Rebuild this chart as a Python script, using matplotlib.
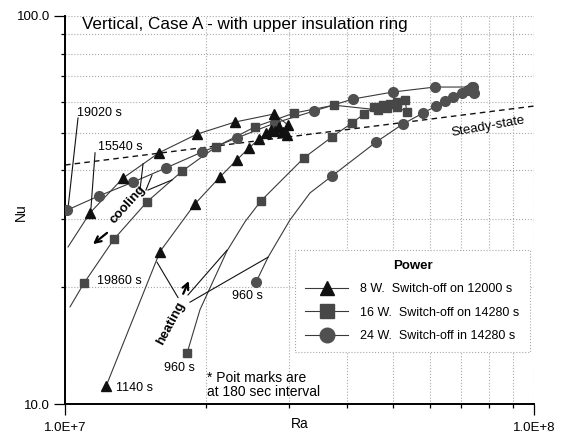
import matplotlib
matplotlib.use("Agg")
import matplotlib.pyplot as plt
from matplotlib.lines import Line2D
from matplotlib.ticker import NullFormatter, LogLocator

plt.rcParams['font.family'] = ['Liberation Sans', 'DejaVu Sans']

# ---------------- data (Ra, Nu) ----------------
# 8 W (triangles)
tri_heat_ra = [1.223e7, 1.594e7, 1.893e7, 2.141e7, 2.326e7, 2.468e7, 2.592e7, 2.683e7,
               2.750e7, 2.804e7, 2.859e7, 2.916e7, 2.973e7]
tri_heat_nu = [11.1, 24.7, 32.8, 38.5, 42.6, 45.7, 48.2, 49.9, 50.8, 50.5, 51.8, 50.2, 49.3]
tri_cool_ra = [2.988e7, 2.790e7, 2.304e7, 1.911e7, 1.586e7, 1.329e7, 1.131e7]
tri_cool_nu = [52.4, 55.9, 53.3, 49.6, 44.4, 38.2, 31.1]
tri_cool_tail_ra = [1.131e7, 1.015e7]
tri_cool_tail_nu = [31.1, 25.4]

# 16 W (squares)
sq_heat_ra = [1.820e7, 2.618e7, 3.233e7, 3.710e7, 4.092e7, 4.340e7, 4.559e7, 4.764e7,
              4.932e7, 5.104e7, 5.307e7]
sq_heat_nu = [13.5, 33.4, 43.1, 48.8, 53.0, 55.9, 58.3, 58.9, 59.3, 60.0, 60.7]
sq_heat_line_ra = [1.820e7, 1.940e7, 2.215e7, 2.420e7, 2.618e7]
sq_heat_line_nu = [13.5, 17.5, 24.8, 29.5, 33.4]
sq_cool_ra = [5.359e7, 5.104e7, 4.859e7, 4.650e7, 3.747e7, 3.077e7, 2.542e7, 2.099e7,
              1.776e7, 1.496e7, 1.272e7, 1.098e7]
sq_cool_nu = [56.6, 58.3, 58.0, 57.3, 58.9, 56.2, 51.8, 46.0, 39.8, 33.2, 26.6, 20.5]
sq_cool_tail_ra = [1.098e7, 1.025e7]
sq_cool_tail_nu = [20.5, 17.8]

# 24 W (circles)
ci_heat_ra = [2.554e7, 3.710e7, 4.604e7, 5.256e7, 5.799e7, 6.180e7, 6.460e7, 6.720e7,
              7.023e7, 7.233e7, 7.376e7, 7.450e7]
ci_heat_nu = [20.6, 38.7, 47.3, 52.7, 56.2, 58.6, 60.4, 61.8, 63.3, 64.5, 65.6, 63.5]
ci_heat_line_ra = [2.554e7, 2.710e7, 3.017e7, 3.330e7, 3.710e7]
ci_heat_line_nu = [20.6, 23.9, 29.8, 35.0, 38.7]
ci_cool_ra = [7.412e7, 6.151e7, 5.005e7, 4.112e7, 3.396e7, 2.804e7, 2.326e7, 1.959e7,
              1.642e7, 1.396e7, 1.182e7, 1.010e7]
ci_cool_nu = [65.6, 65.6, 63.7, 61.1, 56.9, 53.0, 48.5, 44.6, 40.6, 37.3, 34.4, 31.6]

# steady state
ss_ra = [1.0e7, 1.0e8]
ss_nu = [41.3, 58.6]

# leader lines for annotations
lead_19020_ra = [1.066e7, 1.015e7]
lead_19020_nu = [54.6, 32.0]
lead_15540_ra = [1.159e7, 1.136e7]
lead_15540_nu = [44.4, 32.0]
lead_cool = [([1.445e7, 1.467e7], [35.6, 41.6]),
             ([1.488e7, 1.533e7], [35.6, 38.9]),
             ([1.503e7, 1.691e7], [35.6, 37.8])]
lead_heat = [([1.571e7, 1.742e7], [23.2, 18.8]),
             ([1.829e7, 2.215e7], [19.1, 24.9]),
             ([1.847e7, 2.710e7], [18.3, 23.9])]

x_ticks = [1e7, 1e8]
x_tick_labels = ["1.0E+7", "1.0E+8"]
y_ticks = [10, 100]
y_tick_labels = ["10.0", "100.0"]

legend_labels = ["8 W.  Switch-off on 12000 s",
                 "16 W.  Switch-off on 14280 s",
                 "24 W.  Switch-off in 14280 s"]

# ---------------- plot ----------------
fig = plt.figure(figsize=(5.62, 4.40), dpi=100)
ax = fig.add_axes([65/562, 1-404/440, 469/562, 388/440])
ax.set_xscale('log')
ax.set_yscale('log')
ax.set_xlim(1e7, 1e8)
ax.set_ylim(10, 100)

line_c = '#3a3a3a'
lw = 0.8
tri_c = '#111111'
sq_c = '#474747'
ci_c = '#505050'

# lines
for xs, ys in [(tri_heat_ra, tri_heat_nu), (tri_cool_ra, tri_cool_nu),
               (tri_cool_tail_ra, tri_cool_tail_nu),
               (sq_heat_line_ra, sq_heat_line_nu), (sq_heat_ra[1:], sq_heat_nu[1:]),
               (sq_cool_ra, sq_cool_nu), (sq_cool_tail_ra, sq_cool_tail_nu),
               (ci_heat_line_ra, ci_heat_line_nu), (ci_heat_ra[1:], ci_heat_nu[1:]),
               (ci_cool_ra, ci_cool_nu)]:
    ax.plot(xs, ys, color=line_c, lw=lw, zorder=3)
ax.plot([tri_heat_ra[-1], tri_cool_ra[0]], [tri_heat_nu[-1], tri_cool_nu[0]], color=line_c, lw=lw, zorder=3)
ax.plot([sq_heat_ra[-1], sq_cool_ra[0]], [sq_heat_nu[-1], sq_cool_nu[0]], color=line_c, lw=lw, zorder=3)

# steady state
ax.plot(ss_ra, ss_nu, color='#111111', lw=1.0, ls=(0, (4, 3)), zorder=2)

# markers
ms_t, ms_s, ms_c = 7.5, 6.2, 7.0
ax.plot(tri_heat_ra, tri_heat_nu, ls='none', marker='^', ms=ms_t, color=tri_c, mec=tri_c, zorder=5)
ax.plot(tri_cool_ra, tri_cool_nu, ls='none', marker='^', ms=ms_t, color=tri_c, mec=tri_c, zorder=5)
ax.plot(sq_heat_ra, sq_heat_nu, ls='none', marker='s', ms=ms_s, color=sq_c, mec=sq_c, zorder=4)
ax.plot(sq_cool_ra, sq_cool_nu, ls='none', marker='s', ms=ms_s, color=sq_c, mec=sq_c, zorder=4)
ax.plot(ci_heat_ra, ci_heat_nu, ls='none', marker='o', ms=ms_c, color=ci_c, mec=ci_c, zorder=4)
ax.plot(ci_cool_ra, ci_cool_nu, ls='none', marker='o', ms=ms_c, color=ci_c, mec=ci_c, zorder=4)

# leader lines
ax.plot(lead_19020_ra, lead_19020_nu, color='#111111', lw=0.8, zorder=3)
ax.plot(lead_15540_ra, lead_15540_nu, color='#111111', lw=0.8, zorder=3)
for xs, ys in lead_cool + lead_heat:
    ax.plot(xs, ys, color='#111111', lw=0.8, zorder=3)

# axes styling
for s in ['top', 'right']:
    ax.spines[s].set_visible(False)
for s in ['left', 'bottom']:
    ax.spines[s].set_linewidth(1.4)
ax.set_xticks(x_ticks, x_tick_labels)
ax.set_yticks(y_ticks, y_tick_labels)
ax.xaxis.set_minor_locator(LogLocator(base=10, subs=range(2, 10)))
ax.yaxis.set_minor_locator(LogLocator(base=10, subs=range(2, 10)))
ax.xaxis.set_minor_formatter(NullFormatter())
ax.yaxis.set_minor_formatter(NullFormatter())
ax.tick_params(which='major', direction='out', length=8, width=0.9, labelsize=9.5, pad=3)
ax.tick_params(axis='x', which='major', pad=5)
ax.tick_params(which='minor', direction='out', length=3, width=0.9)
ax.grid(True, which='both', ls=':', color='#a8a8a8', lw=0.8, zorder=0)
ax.set_axisbelow(True)

ax.set_xlabel('Ra', fontsize=10)
ax.xaxis.set_label_coords(0.500, -0.034)
ax.set_ylabel('Nu', fontsize=10)
ax.yaxis.set_label_coords(-0.079, 0.495)

# texts
ax.text(0.036, 0.977, 'Vertical, Case A - with upper insulation ring', transform=ax.transAxes,
        fontsize=12.3, ha='left', va='center')
ax.text(0.0725, 0.750, '19020 s', transform=ax.transAxes, fontsize=9, ha='center', va='center')
ax.text(0.117, 0.662, '15540 s', transform=ax.transAxes, fontsize=9, ha='center', va='center')
ax.text(0.115, 0.317, '19860 s', transform=ax.transAxes, fontsize=9, ha='center', va='center')
ax.text(0.149, 0.041, '1140 s', transform=ax.transAxes, fontsize=9, ha='center', va='center')
ax.text(0.243, 0.093, '960 s', transform=ax.transAxes, fontsize=9, ha='center', va='center')
ax.text(0.390, 0.278, '960 s', transform=ax.transAxes, fontsize=9, ha='center', va='center')
ax.text(0.303, 0.048, '* Poit marks are\nat 180 sec interval', transform=ax.transAxes,
        fontsize=10, ha='left', va='center', linespacing=1.0)
ax.text(0.134, 0.513, 'cooling', transform=ax.transAxes, fontsize=9.5, fontweight='bold',
        ha='center', va='center', rotation=48)
ax.text(0.226, 0.209, 'heating', transform=ax.transAxes, fontsize=9.5, fontweight='bold',
        ha='center', va='center', rotation=62)
ax.text(0.902, 0.716, 'Steady-state', transform=ax.transAxes, fontsize=9.5,
        ha='center', va='center', rotation=10)

ax.annotate('', xy=(0.0597, 0.412), xytext=(0.0896, 0.441), xycoords='axes fraction',
            arrowprops=dict(arrowstyle='->', color='black', lw=1.6, mutation_scale=11,
                            shrinkA=0, shrinkB=0))
ax.annotate('', xy=(0.264, 0.317), xytext=(0.252, 0.284), xycoords='axes fraction',
            arrowprops=dict(arrowstyle='->', color='black', lw=1.6, mutation_scale=11,
                            shrinkA=0, shrinkB=0))

# legend
handles = [Line2D([], [], color=line_c, lw=0.8, marker='^', ms=10.5, mfc=tri_c, mec=tri_c),
           Line2D([], [], color=line_c, lw=0.8, marker='s', ms=10, mfc=sq_c, mec=sq_c),
           Line2D([], [], color=line_c, lw=0.8, marker='o', ms=10.5, mfc=ci_c, mec=ci_c)]
leg = ax.legend(handles, legend_labels, title='Power', loc='lower left',
                bbox_to_anchor=(0.478, 0.118), fontsize=9, title_fontsize=9.5,
                handlelength=3.4, handletextpad=1.0, labelspacing=0.9,
                borderpad=0.8, fancybox=False, framealpha=1, edgecolor='#a8a8a8')
leg.get_title().set_fontweight('bold')
leg.get_frame().set_linestyle(':')
leg.get_frame().set_linewidth(0.8)

fig.savefig('out.png', dpi=100)
